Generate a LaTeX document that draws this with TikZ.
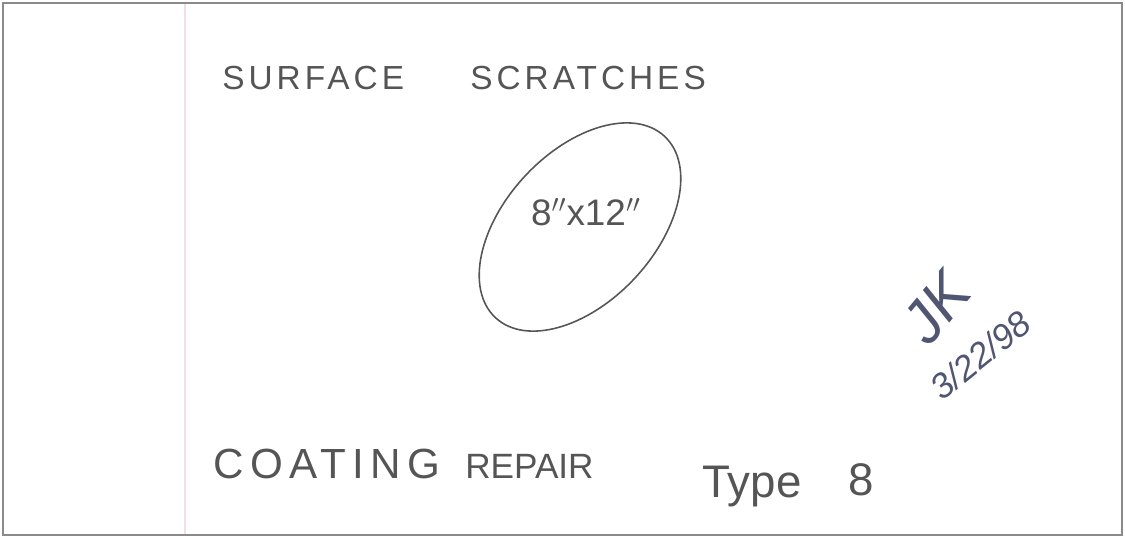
\documentclass[tikz,border=0pt]{standalone}
\usepackage{fontspec}
\setmainfont{Liberation Sans}
\newfontfamily\hand[LetterSpace=12]{Liberation Sans}
\newfontfamily\handwide[LetterSpace=15]{Liberation Sans}
\usetikzlibrary{shapes.geometric}
\definecolor{ink}{HTML}{555555}
\definecolor{sigink}{HTML}{505672}
\definecolor{frame}{HTML}{8A8A8A}
\definecolor{margin}{HTML}{F6DCE8}

\begin{document}
\begin{tikzpicture}[x=0.02cm,y=-0.02cm,every node/.style={text=ink,inner sep=0pt}]
  \useasboundingbox (0,0) rectangle (1125,541);
  % sheet and margin line
  \draw[frame,line width=1.2pt] (3,3) rectangle (1122,535);
  \draw[margin,line width=1pt] (185,4) -- (185,534);
  % heading
  \node[anchor=base west,font=\hand\fontsize{19}{19}\selectfont] (surf) at (222,89) {SURFACE};
  \node[anchor=base west,font=\hand\fontsize{19}{19}\selectfont] (scr) at (470,89) {SCRATCHES};
  % scratched patch
  \node[draw=ink,line width=0.9pt,ellipse,minimum width=4.96cm,minimum height=3cm,rotate=47] (patch) at (580,227) {};
  \node[font=\fontsize{21}{21}\selectfont] (size) at (586,212) {8$''$x12$''$};
  % sign-off
  \node[font=\itshape\fontsize{34}{34}\selectfont,text=sigink,rotate=50] (init) at (936,308) {JK};
  \node[font=\itshape\fontsize{20}{20}\selectfont,text=sigink,rotate=39] (date) at (980,355) {3/22/98};
  % footer
  \node[anchor=base west,font=\handwide\fontsize{24}{24}\selectfont] (coat) at (213,478) {COATING};
  \node[anchor=base west,font=\fontsize{20}{20}\selectfont] (rep) at (465,478) {REPAIR};
  \node[anchor=base west,font=\fontsize{26}{26}\selectfont] (type) at (702,497) {Type};
  \node[anchor=base west,font=\fontsize{26}{26}\selectfont] (num) at (848,495) {8};
\end{tikzpicture}
\end{document}
